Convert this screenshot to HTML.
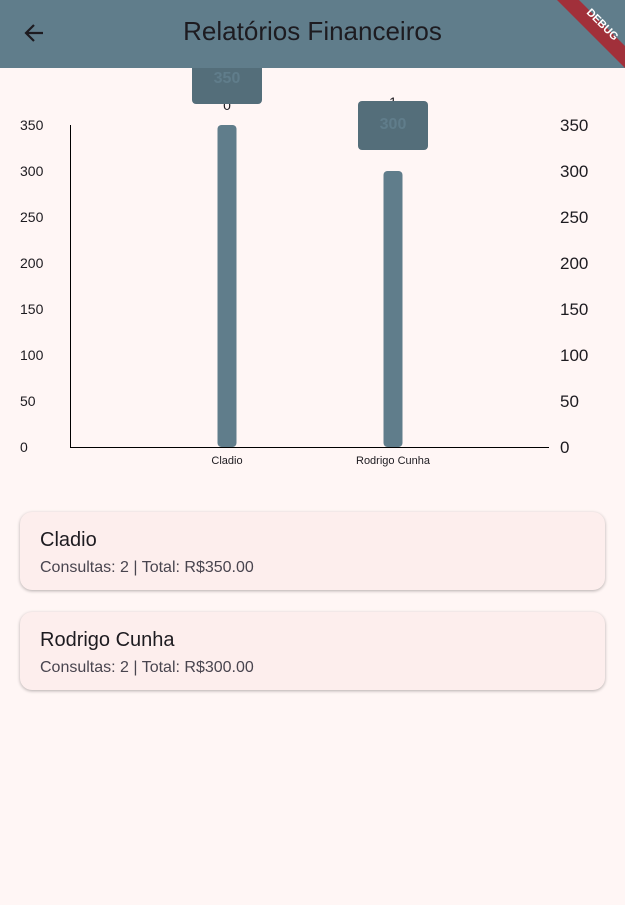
<!DOCTYPE html>
<html><head><meta charset="utf-8"><style>
body{margin:0;width:625px;height:905px;background:#fff6f5;font-family:"Liberation Sans",sans-serif;overflow:hidden;position:relative}
.bar{position:absolute;left:0;top:0;width:625px;height:68px;background:#607d8b;z-index:2}
.title{position:absolute;left:0;width:625px;top:16px;text-align:center;font-size:26px;color:#1d1b20}
.card{position:absolute;left:20px;width:585px;height:78px;background:#fdeeed;border-radius:12px;box-shadow:0 1px 3px rgba(0,0,0,.3)}
.card .n{position:absolute;left:20px;top:17px;font-size:20px;color:#1d1b20}
.card .s{position:absolute;left:20px;top:47px;font-size:16px;color:#49454f}
</style></head><body>
<div class="bar">
<svg style="position:absolute;left:22px;top:21px" width="26" height="26"><path d="M21 12H5M12 4l-8 8 8 8" stroke="#1d1b20" stroke-width="2.2" fill="none"/></svg>
<div class="title">Relatórios Financeiros</div>
<svg style="position:absolute;right:0;top:0" width="70" height="70"><polygon points="2,0 24,0 70,46 70,68" fill="#a1303a"/><text x="0" y="0" transform="translate(45,27) rotate(45)" font-size="11" font-weight="bold" fill="#fff" text-anchor="middle" font-family="Liberation Sans">DEBUG</text></svg>
</div>
<svg id="chart" width="625" height="480" style="position:absolute;left:0;top:0;z-index:1"></svg>
<div class="card" style="top:512px"><div class="n">Cladio</div><div class="s">Consultas: 2 | Total: R$350.00</div></div>
<div class="card" style="top:612px"><div class="n">Rodrigo Cunha</div><div class="s">Consultas: 2 | Total: R$300.00</div></div>
<script>
const categories=["Cladio","Rodrigo Cunha"];
const values=[350,300];
const ticks=[0,50,100,150,200,250,300,350];
const NS="http://www.w3.org/2000/svg";
const svg=document.getElementById('chart');
const y0=447,y1=125,vmax=350;
const yS=v=>y0-(v/vmax)*(y0-y1);
const xS=i=>227+i*166;
function mk(t,a,txt){const e=document.createElementNS(NS,t);for(const k in a)e.setAttribute(k,a[k]);if(txt!=null)e.textContent=txt;svg.appendChild(e);return e;}
ticks.forEach(t=>{
 let e=mk('text',{x:20,y:yS(t)+5,'font-size':14,fill:'#1d1b20'},t);
 
 
 e=mk('text',{x:560,y:yS(t)+6,'font-size':17,fill:'#1d1b20'},t);
 
 
});
let ax=mk('line',{x1:70.5,y1:125,x2:70.5,y2:448,stroke:'#000'});


ax=mk('line',{x1:70,y1:447.5,x2:549,y2:447.5,stroke:'#000'});


categories.forEach((c,i)=>{
 const x=xS(i),yt=yS(values[i]);
 let b=mk('rect',{x:x-9.5,y:yt,width:19,height:y0-yt,rx:4,fill:'#607d8b'});
 
 
 let l=mk('text',{x:x,y:464,'font-size':11,fill:'#1d1b20','text-anchor':'middle'},c);
 
 
 let n=mk('text',{x:x,y:i===0?yt-15:yt-64,'font-size':14,fill:'#1d1b20','text-anchor':'middle'},i);
 
 
 const by=yt-70;
 let r=mk('rect',{x:x-35,y:by,width:70,height:49,rx:4,fill:'#546e7a'});
 
 
 let tt=mk('text',{x:x,y:by+28,'font-size':16,'font-weight':'bold',fill:'#607d8b','text-anchor':'middle'},values[i]);
 
 
});
</script>
</body></html>
